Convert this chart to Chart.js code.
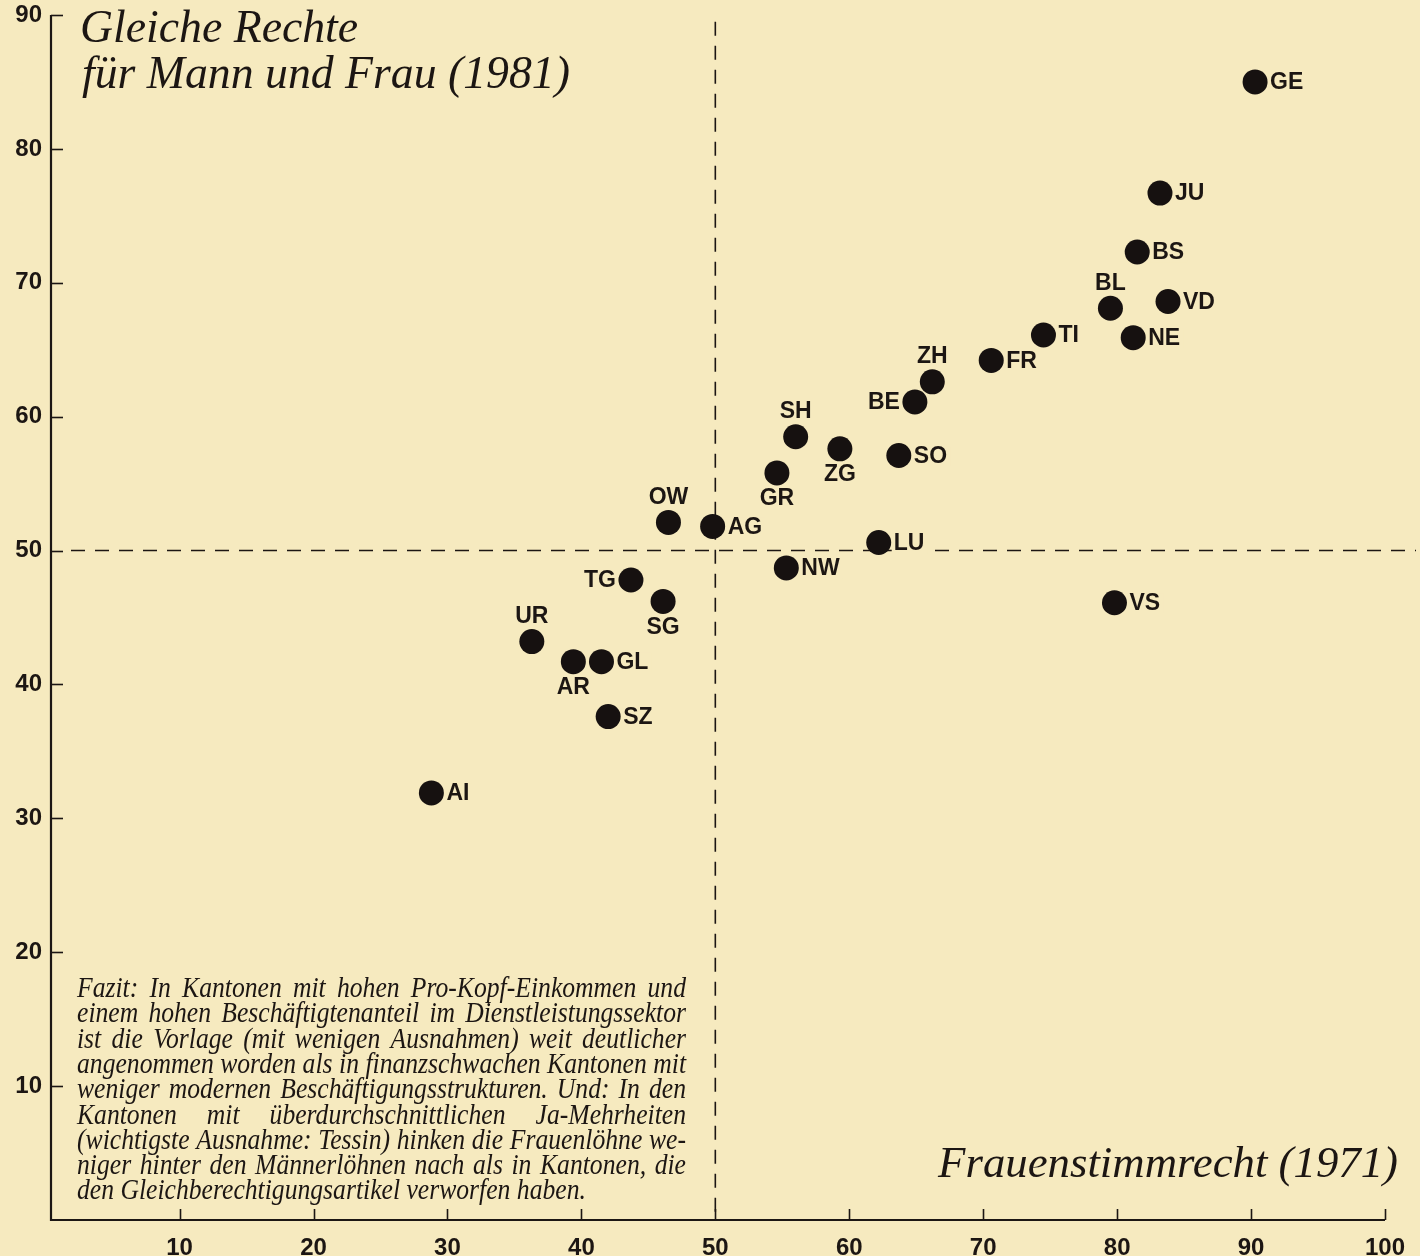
<!DOCTYPE html>
<html>
<head>
<meta charset="utf-8">
<script src="https://cdn.jsdelivr.net/npm/chart.js@4"></script>
<style>
  html, body { margin: 0; padding: 0; background: #f6eabf; }
  #chart { display: block; }
</style>
</head>
<body>
<canvas id="chart" width="1420" height="1256"></canvas>
<script>
// Kantone: Ja-Anteil Frauenstimmrecht 1971 (x) / Gleiche Rechte 1981 (y), in %
const cantons = ['GE', 'JU', 'BS', 'BL', 'VD', 'NE', 'TI', 'FR', 'ZH', 'BE', 'SH', 'ZG', 'SO', 'GR',
                 'LU', 'NW', 'OW', 'AG', 'TG', 'SG', 'UR', 'AR', 'GL', 'SZ', 'AI', 'VS'];
const stimmrecht1971 = [90.3, 83.2, 81.5, 79.5, 83.8, 81.2, 74.5, 70.6, 66.2, 64.9, 56.0, 59.3, 63.7, 54.6,
                        62.2, 55.3, 46.5, 49.8, 43.7, 46.1, 36.3, 39.4, 41.5, 42.0, 28.8, 79.8];
const gleicheRechte1981 = [85.0, 76.7, 72.3, 68.1, 68.6, 65.9, 66.1, 64.2, 62.6, 61.1, 58.5, 57.6, 57.1, 55.8,
                           50.6, 48.7, 52.1, 51.8, 47.8, 46.2, 43.2, 41.7, 41.7, 37.6, 31.9, 46.1];
const xTickValues = [10, 20, 30, 40, 50, 60, 70, 80, 90, 100];
const yTickValues = [10, 20, 30, 40, 50, 60, 70, 80, 90];
const splitX = 50;
const splitY = 50;

const titleLines = ['Gleiche Rechte', 'für Mann und Frau (1981)'];
const xTitle = 'Frauenstimmrecht (1971)';
const fazitLines = [
  'Fazit: In Kantonen mit hohen Pro-Kopf-Einkommen und',
  'einem hohen Beschäftigtenanteil im Dienstleistungssektor',
  'ist die Vorlage (mit wenigen Ausnahmen) weit deutlicher',
  'angenommen worden als in finanzschwachen Kantonen mit',
  'weniger modernen Beschäftigungsstrukturen. Und: In den',
  'Kantonen mit überdurchschnittlichen Ja-Mehrheiten',
  '(wichtigste Ausnahme: Tessin) hinken die Frauenlöhne we-',
  'niger hinter den Männerlöhnen nach als in Kantonen, die',
  'den Gleichberechtigungsartikel verworfen haben.'
];

// where the canton code sits relative to its dot (default: right)
const labelSide = { BL: 'above', ZH: 'above', SH: 'above', OW: 'above', UR: 'above',
                    ZG: 'below', GR: 'below', SG: 'below', AR: 'below',
                    BE: 'left', TG: 'left' };

const ink = '#1c1613';
const paper = '#f6eabf';
const sans = '"Liberation Sans", Arial, sans-serif';
const serif = '"Liberation Serif", "Times New Roman", serif';

function fitSize(ctx, text, font, width) {
  ctx.font = font.replace('SIZE', '100px');
  return 100 * width / ctx.measureText(text).width;
}

const decorPlugin = {
  id: 'decor',
  beforeDatasetsDraw(chart) {
    const ctx = chart.ctx;
    const xs = chart.scales.x, ys = chart.scales.y;
    const left = chart.chartArea.left, bottom = chart.chartArea.bottom;
    ctx.save();

    // axes
    ctx.strokeStyle = ink;
    ctx.lineWidth = 2.2;
    const x100 = xs.getPixelForValue(100);
    const y90 = ys.getPixelForValue(90);
    ctx.beginPath();
    ctx.moveTo(left, y90);
    ctx.lineTo(left, bottom);
    ctx.lineTo(x100, bottom);
    ctx.stroke();
    ctx.lineWidth = 1.6;
    yTickValues.forEach(v => {
      const py = Math.round(ys.getPixelForValue(v)) + 0.5;
      ctx.beginPath(); ctx.moveTo(left, py); ctx.lineTo(left + 12, py); ctx.stroke();
    });
    xTickValues.forEach(v => {
      const px = Math.round(xs.getPixelForValue(v)) + 0.5;
      ctx.beginPath(); ctx.moveTo(px, bottom); ctx.lineTo(px, bottom - 11); ctx.stroke();
    });

    // dashed 50 % lines
    ctx.setLineDash([14, 10]);
    ctx.lineWidth = 1.6;
    const px50 = xs.getPixelForValue(splitX);
    const py50 = ys.getPixelForValue(splitY);
    ctx.beginPath();
    ctx.moveTo(px50, ys.getPixelForValue(89.5));
    ctx.lineTo(px50, bottom - 8);
    ctx.stroke();
    ctx.beginPath();
    ctx.moveTo(left + 20, py50);
    ctx.lineTo(chart.width - 4, py50);
    ctx.stroke();
    ctx.setLineDash([]);

    // headline
    ctx.fillStyle = ink;
    ctx.textBaseline = 'alphabetic';
    ctx.textAlign = 'left';
    const tFont = 'italic SIZE ' + serif;
    const tSize = fitSize(ctx, titleLines[1], tFont, 488);
    ctx.font = tFont.replace('SIZE', tSize + 'px');
    ctx.fillText(titleLines[0], 80, 42);
    ctx.fillText(titleLines[1], 82, 88);

    // x axis title
    const xSize = fitSize(ctx, xTitle, tFont, 460);
    ctx.font = tFont.replace('SIZE', xSize + 'px');
    ctx.textAlign = 'right';
    ctx.fillText(xTitle, 1398, 1177);

    // Fazit block, justified, slightly taller glyphs like the print
    ctx.textAlign = 'left';
    const fFont = 'italic SIZE ' + serif;
    const boxL = 77, boxW = 609;
    let fSize = 100;
    fazitLines.forEach(l => { fSize = Math.min(fSize, fitSize(ctx, l, fFont, boxW)); });
    ctx.font = fFont.replace('SIZE', fSize + 'px');
    fazitLines.forEach((line, i) => {
      const by = 997 + i * 25.3;
      ctx.save();
      ctx.translate(0, by);
      ctx.scale(1, 1.14);
      const words = line.split(' ');
      if (i === fazitLines.length - 1 || words.length < 2) {
        ctx.fillText(line, boxL, 0);
      } else {
        const wordsW = words.reduce((s, w) => s + ctx.measureText(w).width, 0);
        const gap = (boxW - wordsW) / (words.length - 1);
        let cx = boxL;
        words.forEach(w => { ctx.fillText(w, cx, 0); cx += ctx.measureText(w).width + gap; });
      }
      ctx.restore();
    });
    ctx.restore();
  },
  afterDatasetsDraw(chart) {
    const ctx = chart.ctx;
    const meta = chart.getDatasetMeta(0);
    ctx.save();
    ctx.font = 'bold 23px ' + sans;
    ctx.textBaseline = 'middle';
    meta.data.forEach((pt, i) => {
      const code = cantons[i];
      const side = labelSide[code] || 'right';
      const w = ctx.measureText(code).width;
      let tx, ty = pt.y + 1;
      if (side === 'right') { tx = pt.x + 15; }
      else if (side === 'left') { tx = pt.x - 15 - w; }
      else if (side === 'above') { tx = pt.x - w / 2; ty = pt.y - 25; }
      else { tx = pt.x - w / 2; ty = pt.y + 26; }
      if (side === 'right') {
        ctx.fillStyle = paper;
        ctx.fillRect(tx - 2, ty - 10, w + 5, 20);
      }
      ctx.fillStyle = ink;
      ctx.fillText(code, tx, ty);
    });
    ctx.restore();
  }
};

const points = cantons.map((c, i) => ({ x: stimmrecht1971[i], y: gleicheRechte1981[i] }));

new Chart(document.getElementById('chart'), {
  type: 'scatter',
  data: {
    datasets: [{
      label: 'Kantone',
      data: points,
      pointRadius: 12.5,
      pointHoverRadius: 12.5,
      backgroundColor: '#161110',
      borderWidth: 0
    }]
  },
  options: {
    responsive: false,
    animation: false,
    events: [],
    layout: { padding: { top: 15, right: 35, bottom: 0, left: 0 } },
    plugins: { legend: { display: false }, tooltip: { enabled: false } },
    scales: {
      x: {
        type: 'linear',
        min: 0.4,
        max: 100,
        afterBuildTicks: s => { s.ticks = xTickValues.map(v => ({ value: v })); },
        afterFit: s => { s.height = 36; s.paddingLeft = 0; s.paddingRight = 0; },
        grid: { display: false, drawTicks: false },
        border: { display: false },
        ticks: { color: ink, padding: 14, maxRotation: 0, autoSkip: false,
                 font: { family: sans, weight: 'bold', size: 24 } }
      },
      y: {
        type: 'linear',
        min: 0,
        max: 90,
        afterBuildTicks: s => { s.ticks = yTickValues.map(v => ({ value: v })); },
        afterFit: s => { s.width = 51; s.paddingTop = 0; s.paddingBottom = 0; },
        grid: { display: false, drawTicks: false },
        border: { display: false },
        ticks: { color: ink, padding: 9, autoSkip: false,
                 font: { family: sans, weight: 'bold', size: 24 } }
      }
    }
  },
  plugins: [decorPlugin]
});
</script>
</body>
</html>
